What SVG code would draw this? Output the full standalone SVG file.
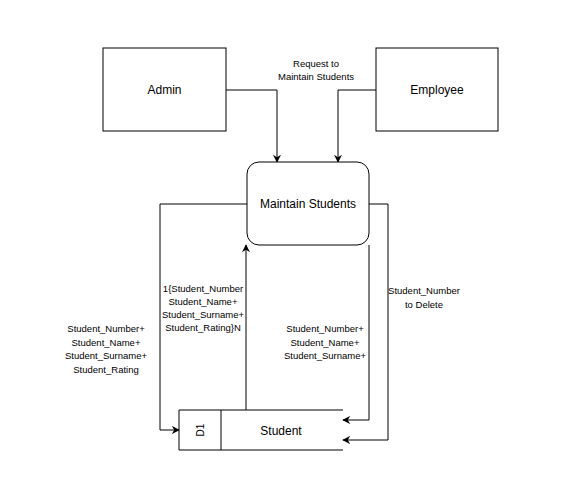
<svg xmlns="http://www.w3.org/2000/svg" width="569" height="502" viewBox="0 0 569 502">
<style>
.box{fill:#fff;stroke:#000;stroke-width:1}
.ln{fill:none;stroke:#000;stroke-width:1}
.t{font-family:"Liberation Sans",Arial,sans-serif;font-size:12px;fill:#000;text-anchor:middle}
.s{font-family:"Liberation Sans",Arial,sans-serif;font-size:9.5px;fill:#000;text-anchor:middle}
</style>
<defs>
<marker id="ah" viewBox="0 0 10 10" refX="9" refY="5" markerWidth="8" markerHeight="8" orient="auto" markerUnits="userSpaceOnUse">
<path d="M0,0 L10,5 L0,10 L3,5 Z" fill="#000"/>
</marker>
</defs>
<rect width="569" height="502" fill="#fff"/>
<g id="connectors">
<path class="ln" d="M226,90 H277 V162" marker-end="url(#ah)"/>
<path class="ln" d="M376,90 H338 V162" marker-end="url(#ah)"/>
<path class="ln" d="M247,204 H160 V430 H179" marker-end="url(#ah)"/>
<path class="ln" d="M246,410 V245" marker-end="url(#ah)"/>
<path class="ln" d="M369,245 V420 H343" marker-end="url(#ah)"/>
<path class="ln" d="M369,204 H388 V440 H343" marker-end="url(#ah)"/>
</g>
<g id="admin">
<rect class="box" x="103" y="48" width="123" height="83"/>
<text class="t" x="164.5" y="94">Admin</text>
</g>
<g id="employee">
<rect class="box" x="376" y="48" width="122" height="83"/>
<text class="t" x="437" y="94">Employee</text>
</g>
<g id="maintain">
<rect class="box" x="247" y="162" width="122" height="83" rx="12" ry="12"/>
<text class="t" x="308" y="208">Maintain Students</text>
</g>
<g id="student">
<path class="ln" d="M343,410 H179 V450 H343"/>
<line class="ln" x1="221" y1="410" x2="221" y2="450"/>
<text class="s" transform="translate(204,430) rotate(-90)" style="font-size:10px">D1</text>
<text class="t" x="281" y="435">Student</text>
</g>
<g id="labels">
<text class="s" x="316" y="67">Request to</text>
<text class="s" x="316" y="80">Maintain Students</text>
<text class="s" x="106" y="332">Student_Number+</text>
<text class="s" x="106" y="346">Student_Name+</text>
<text class="s" x="106" y="359">Student_Surname+</text>
<text class="s" x="106" y="373">Student_Rating</text>
<text class="s" x="203" y="292">1{Student_Number</text>
<text class="s" x="203" y="305">Student_Name+</text>
<text class="s" x="203" y="318">Student_Surname+</text>
<text class="s" x="203" y="331">Student_Rating}N</text>
<text class="s" x="325" y="332">Student_Number+</text>
<text class="s" x="325" y="346">Student_Name+</text>
<text class="s" x="325" y="359">Student_Surname+</text>
<text class="s" x="424" y="294">Student_Number</text>
<text class="s" x="424" y="308">to Delete</text>
</g>
</svg>
